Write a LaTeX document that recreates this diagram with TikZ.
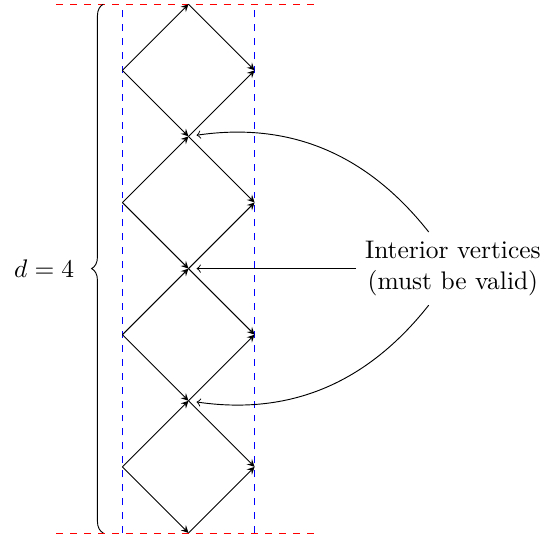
\documentclass[tikz,border=0pt,11pt]{standalone}
\usetikzlibrary{decorations.pathreplacing}
\tikzset{
  cellEdge/.style={-stealth},
  pointerArrow/.style={->, shorten >=3.5pt},
  boundLine/.style={dashed, red},
  sideLine/.style={dashed, blue}
}

\begin{document}
\begin{tikzpicture}
  \useasboundingbox (-2.852,-0.136) rectangle (5.545,8.064);
  % boundaries
  \draw[sideLine] (-1,0) -- (-1,8);
  \draw[sideLine] (1,0) -- (1,8);
  \draw[boundLine] (-2,0) -- (2,0);
  \draw[boundLine] (-2,8) -- (2,8);
  % vertices
  \foreach \k in {0,...,4} \coordinate (V\k) at (0,2*\k);
  \foreach \k in {0,...,3} {
    \coordinate (L\k) at (-1,2*\k+1);
    \coordinate (R\k) at (1,2*\k+1);
  }
  % diamonds
  \foreach \k/\n in {0/1,1/2,2/3,3/4} {
    \draw[cellEdge] (L\k) -- (V\k);
    \draw[cellEdge] (L\k) -- (V\n);
    \draw[cellEdge] (V\k) -- (R\k);
    \draw[cellEdge] (V\n) -- (R\k);
  }
  % depth brace
  \draw[decorate, decoration={brace, amplitude=5pt}] (-1.29,0) -- (-1.29,8)
    node[midway, left=8.7pt] (depth) {$d = 4$};
  % interior label
  \node[align=center] (interior) at (4,4) {Interior vertices\\(must be valid)};
  \draw[pointerArrow] (interior) to[bend right=30] (V3);
  \draw[pointerArrow] (interior) -- (V2);
  \draw[pointerArrow] (interior) to[bend left=30] (V1);
\end{tikzpicture}
\end{document}
